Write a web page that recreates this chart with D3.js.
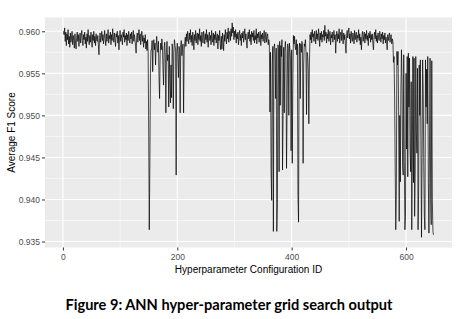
<!DOCTYPE html>
<html lang="en">
<head>
    <meta charset="UTF-8">
    <title>ANN hyper-parameter grid search output</title>
    <script src="https://d3js.org/d3.v7.min.js"></script>
    <style>
        body {
            margin: 0;
            background: #fff;
        }
        svg {
            display: block;
        }
        .tick-label {
            font-family: 'Liberation Sans', Arial, sans-serif;
            font-size: 8.5px;
            fill: #4d4d4d;
        }
        .axis-title {
            font-family: 'Liberation Sans', Arial, sans-serif;
            font-size: 10px;
            fill: #000;
        }
        .caption {
            font-family: 'Lato', sans-serif;
            font-weight: bold;
            font-size: 14.6px;
            fill: #000;
        }
    </style>
</head>
<body>
    <svg width="458" height="319"></svg>

    <script>
        // average F1 score per hyperparameter configuration (ID 1..648)
        const f1Scores = [
            0.9600, 0.9596, 0.9604, 0.9588, 0.9599, 0.9583, 0.9597, 0.9590, 0.9602, 0.9585,
            0.9594, 0.9581, 0.9598, 0.9587, 0.9592, 0.9600, 0.9584, 0.9595, 0.9589, 0.9580,
            0.9597, 0.9586, 0.9579, 0.9593, 0.9599, 0.9588, 0.9596, 0.9582, 0.9591, 0.9598,
            0.9586, 0.9594, 0.9601, 0.9589, 0.9583, 0.9596, 0.9590, 0.9599, 0.9585, 0.9593,
            0.9580, 0.9597, 0.9588, 0.9602, 0.9591, 0.9584, 0.9595, 0.9587, 0.9599, 0.9592,
            0.9581, 0.9596, 0.9589, 0.9600, 0.9586, 0.9594, 0.9583, 0.9597, 0.9590, 0.9588,
            0.9595, 0.9584, 0.9572, 0.9591, 0.9598, 0.9587, 0.9593, 0.9600, 0.9589, 0.9596,
            0.9585, 0.9592, 0.9601, 0.9590, 0.9583, 0.9597, 0.9588, 0.9594, 0.9602, 0.9586,
            0.9595, 0.9591, 0.9599, 0.9584, 0.9596, 0.9589, 0.9603, 0.9592, 0.9587, 0.9598,
            0.9590, 0.9582, 0.9597, 0.9593, 0.9600, 0.9586, 0.9595, 0.9578, 0.9594, 0.9601,
            0.9588, 0.9596, 0.9591, 0.9584, 0.9599, 0.9593, 0.9602, 0.9587, 0.9595, 0.9590,
            0.9598, 0.9583, 0.9596, 0.9589, 0.9600, 0.9592, 0.9586, 0.9597, 0.9591, 0.9599,
            0.9585, 0.9594, 0.9601, 0.9588, 0.9596, 0.9590, 0.9582, 0.9574, 0.9593, 0.9598,
            0.9587, 0.9595, 0.9602, 0.9589, 0.9597, 0.9584, 0.9593, 0.9600, 0.9588, 0.9595,
            0.9581, 0.9592, 0.9586, 0.9596, 0.9579, 0.9588, 0.9577, 0.9590,
            // first drop and the lower band after it
            0.9576, 0.9480, 0.9364, 0.9440, 0.9550, 0.9578,
            0.9578, 0.9589, 0.9552, 0.9585, 0.9590, 0.9578, 0.9586, 0.9560, 0.9583, 0.9594,
            0.9580, 0.9575, 0.9588, 0.9546, 0.9520, 0.9572, 0.9586, 0.9578, 0.9591, 0.9583,
            0.9554, 0.9536, 0.9580, 0.9587, 0.9569, 0.9503, 0.9575, 0.9588, 0.9565, 0.9572,
            0.9510, 0.9582, 0.9540, 0.9515, 0.9560, 0.9521, 0.9585, 0.9578, 0.9508, 0.9574,
            0.9590, 0.9583, 0.9579, 0.9429, 0.9576, 0.9586, 0.9570, 0.9545, 0.9582, 0.9577,
            0.9503, 0.9584, 0.9589, 0.9571, 0.9580, 0.9585, 0.9503, 0.9578, 0.9586,
            // second stable band
            0.9593, 0.9582, 0.9597, 0.9588, 0.9600, 0.9591, 0.9585,
            0.9598, 0.9590, 0.9602, 0.9587, 0.9595, 0.9583, 0.9599, 0.9592, 0.9578, 0.9596,
            0.9589, 0.9601, 0.9586, 0.9594, 0.9598, 0.9584, 0.9597, 0.9590, 0.9603, 0.9588,
            0.9595, 0.9582, 0.9599, 0.9591, 0.9586, 0.9600, 0.9593, 0.9585, 0.9597, 0.9590,
            0.9602, 0.9587, 0.9596, 0.9581, 0.9594, 0.9599, 0.9589, 0.9595, 0.9584, 0.9601,
            0.9592, 0.9587, 0.9598, 0.9583, 0.9596, 0.9590, 0.9600, 0.9586, 0.9593, 0.9597,
            0.9579, 0.9595, 0.9589, 0.9601, 0.9585, 0.9578, 0.9594, 0.9579, 0.9598, 0.9590,
            0.9577, 0.9596, 0.9588, 0.9602, 0.9592, 0.9585, 0.9599, 0.9591, 0.9604, 0.9587,
            0.9596, 0.9600, 0.9589, 0.9603, 0.9594, 0.9610, 0.9598, 0.9605, 0.9590, 0.9600,
            0.9593, 0.9602, 0.9586, 0.9597, 0.9591, 0.9599, 0.9584, 0.9595, 0.9601, 0.9589,
            0.9596, 0.9583, 0.9598, 0.9592, 0.9600, 0.9587, 0.9594, 0.9603, 0.9590, 0.9597,
            0.9586, 0.9580, 0.9595, 0.9599, 0.9591, 0.9602, 0.9588, 0.9596, 0.9584, 0.9600,
            0.9593, 0.9598, 0.9589, 0.9601, 0.9586, 0.9595, 0.9590, 0.9603, 0.9585, 0.9597,
            0.9592, 0.9599, 0.9587, 0.9594, 0.9600, 0.9583, 0.9596, 0.9591, 0.9598, 0.9588,
            0.9595, 0.9601, 0.9586, 0.9593, 0.9599, 0.9587, 0.9594, 0.9597, 0.9584, 0.9590, 0.9585,
            // middle drop region
            0.9504, 0.9575, 0.9433, 0.9399, 0.9560, 0.9582, 0.9362, 0.9580, 0.9585,
            0.9573, 0.9520, 0.9580, 0.9362, 0.9395, 0.9584, 0.9578, 0.9433, 0.9588, 0.9512,
            0.9583, 0.9570, 0.9590, 0.9435, 0.9500, 0.9581, 0.9503, 0.9579, 0.9588, 0.9575,
            0.9437, 0.9510, 0.9585, 0.9580, 0.9500, 0.9586, 0.9578, 0.9566, 0.9458, 0.9578,
            0.9443, 0.9535, 0.9595, 0.9585, 0.9594, 0.9582, 0.9578, 0.9590, 0.9572, 0.9585,
            0.9405, 0.9373, 0.9580, 0.9586, 0.9520, 0.9585, 0.9575, 0.9588, 0.9580, 0.9443,
            0.9560, 0.9585, 0.9582, 0.9590, 0.9575, 0.9501, 0.9575, 0.9570, 0.9555, 0.9490,
            0.9560, 0.9596,
            // third stable band
            0.9590, 0.9599, 0.9586, 0.9602, 0.9593, 0.9597, 0.9588, 0.9600,
            0.9594, 0.9585, 0.9601, 0.9591, 0.9597, 0.9589, 0.9603, 0.9595, 0.9582, 0.9598,
            0.9590, 0.9600, 0.9587, 0.9596, 0.9593, 0.9601, 0.9589, 0.9607, 0.9594, 0.9599,
            0.9586, 0.9597, 0.9591, 0.9602, 0.9588, 0.9595, 0.9600, 0.9584, 0.9596, 0.9592,
            0.9599, 0.9587, 0.9594, 0.9601, 0.9590, 0.9596, 0.9574, 0.9593, 0.9600, 0.9588,
            0.9597, 0.9591, 0.9603, 0.9586, 0.9595, 0.9599, 0.9589, 0.9602, 0.9593, 0.9585,
            0.9598, 0.9590, 0.9596, 0.9583, 0.9574, 0.9595, 0.9601, 0.9592, 0.9599, 0.9604,
            0.9591, 0.9597, 0.9586, 0.9600, 0.9593, 0.9588, 0.9598, 0.9594, 0.9585, 0.9601,
            0.9590, 0.9596, 0.9599, 0.9587, 0.9595, 0.9592, 0.9602, 0.9589, 0.9597, 0.9584,
            0.9593, 0.9578, 0.9596, 0.9600, 0.9588, 0.9594, 0.9599, 0.9586, 0.9597, 0.9591,
            0.9601, 0.9589, 0.9595, 0.9583, 0.9598, 0.9592, 0.9600, 0.9587, 0.9596, 0.9590,
            0.9597, 0.9585, 0.9578, 0.9594, 0.9599, 0.9591, 0.9602, 0.9588, 0.9595, 0.9586,
            0.9598, 0.9592, 0.9589, 0.9600, 0.9594, 0.9587, 0.9597, 0.9591, 0.9599, 0.9585,
            0.9595, 0.9590, 0.9598, 0.9586, 0.9593, 0.9588, 0.9578, 0.9596, 0.9589, 0.9594,
            0.9598, 0.9587, 0.9593, 0.9596, 0.9585, 0.9591, 0.9588,
            // last unstable region
            0.9563, 0.9570, 0.9522, 0.9440, 0.9364, 0.9405, 0.9576, 0.9560,
            0.9576, 0.9505, 0.9374, 0.9500, 0.9421, 0.9530, 0.9578, 0.9540,
            0.9440, 0.9429, 0.9572, 0.9445, 0.9364, 0.9380, 0.9550, 0.9460,
            0.9570, 0.9427, 0.9574, 0.9510, 0.9568, 0.9460, 0.9433, 0.9540,
            0.9364, 0.9450, 0.9570, 0.9420, 0.9568, 0.9380, 0.9430, 0.9570,
            0.9480, 0.9455, 0.9556, 0.9364, 0.9410, 0.9560, 0.9500, 0.9566,
            0.9470, 0.9355, 0.9450, 0.9566, 0.9530, 0.9440, 0.9380, 0.9364,
            0.9566, 0.9510, 0.9555, 0.9490, 0.9570, 0.9420, 0.9360, 0.9460,
            0.9568, 0.9400, 0.9370, 0.9565, 0.9398, 0.9362, 0.9358
        ];
        const configIds = f1Scores.map((d, i) => i + 1);

        const xTicks = [0, 200, 400, 600];
        const xMinorTicks = [100, 300, 500];
        const yTicks = [0.935, 0.940, 0.945, 0.950, 0.955, 0.960];
        const yMinorTicks = [0.9375, 0.9425, 0.9475, 0.9525, 0.9575];

        const xTitle = "Hyperparameter Configuration ID";
        const yTitle = "Average F1 Score";
        const caption = "Figure 9: ANN hyper-parameter grid search output";

        const panel = { left: 45, right: 452, top: 17.5, bottom: 247.5 };

        const svg = d3.select("svg");

        // scales (ggplot style 5% padding)
        const x = d3.scaleLinear().domain([-31.35, 680.35]).range([panel.left, panel.right]);
        const y = d3.scaleLinear().domain([0.93429, 0.96164]).range([panel.bottom, panel.top]);

        // panel background
        svg.append("rect")
            .attr("x", panel.left)
            .attr("y", panel.top)
            .attr("width", panel.right - panel.left)
            .attr("height", panel.bottom - panel.top)
            .attr("fill", "#ebebeb");

        // grid lines
        const grid = svg.append("g");
        grid.selectAll(".ym").data(yMinorTicks).enter().append("line")
            .attr("x1", panel.left).attr("x2", panel.right)
            .attr("y1", d => y(d)).attr("y2", d => y(d))
            .attr("stroke", "#fff").attr("stroke-width", 0.55);
        grid.selectAll(".xm").data(xMinorTicks).enter().append("line")
            .attr("y1", panel.top).attr("y2", panel.bottom)
            .attr("x1", d => x(d)).attr("x2", d => x(d))
            .attr("stroke", "#fff").attr("stroke-width", 0.55);
        grid.selectAll(".yM").data(yTicks).enter().append("line")
            .attr("x1", panel.left).attr("x2", panel.right)
            .attr("y1", d => y(d)).attr("y2", d => y(d))
            .attr("stroke", "#fff").attr("stroke-width", 1.1);
        grid.selectAll(".xM").data(xTicks).enter().append("line")
            .attr("y1", panel.top).attr("y2", panel.bottom)
            .attr("x1", d => x(d)).attr("x2", d => x(d))
            .attr("stroke", "#fff").attr("stroke-width", 1.1);

        // the series
        const line = d3.line()
            .x((d, i) => x(configIds[i]))
            .y(d => y(d));

        svg.append("path")
            .datum(f1Scores)
            .attr("d", line)
            .attr("fill", "none")
            .attr("stroke", "#000")
            .attr("stroke-width", 0.7)
            .attr("stroke-linejoin", "round");

        // axes
        const xAxis = svg.append("g")
            .attr("transform", `translate(0,${panel.bottom})`)
            .call(d3.axisBottom(x).tickValues(xTicks).tickSize(3).tickPadding(3.5).tickFormat(d3.format("d")));
        xAxis.select(".domain").remove();

        const yAxis = svg.append("g")
            .attr("transform", `translate(${panel.left},0)`)
            .call(d3.axisLeft(y).tickValues(yTicks).tickSize(3).tickPadding(2).tickFormat(d3.format(".3f")));
        yAxis.select(".domain").remove();

        svg.selectAll(".tick line").attr("stroke", "#333").attr("stroke-width", 1);
        svg.selectAll(".tick text").attr("class", "tick-label");

        // titles
        svg.append("text")
            .attr("class", "axis-title")
            .attr("x", (panel.left + panel.right) / 2)
            .attr("y", 273)
            .attr("text-anchor", "middle")
            .text(xTitle);

        svg.append("text")
            .attr("class", "axis-title")
            .attr("transform", `translate(15,${(panel.top + panel.bottom) / 2}) rotate(-90)`)
            .attr("text-anchor", "middle")
            .text(yTitle);

        svg.append("text")
            .attr("class", "caption")
            .attr("x", 229)
            .attr("y", 310)
            .attr("text-anchor", "middle")
            .text(caption);
    </script>
</body>
</html>
